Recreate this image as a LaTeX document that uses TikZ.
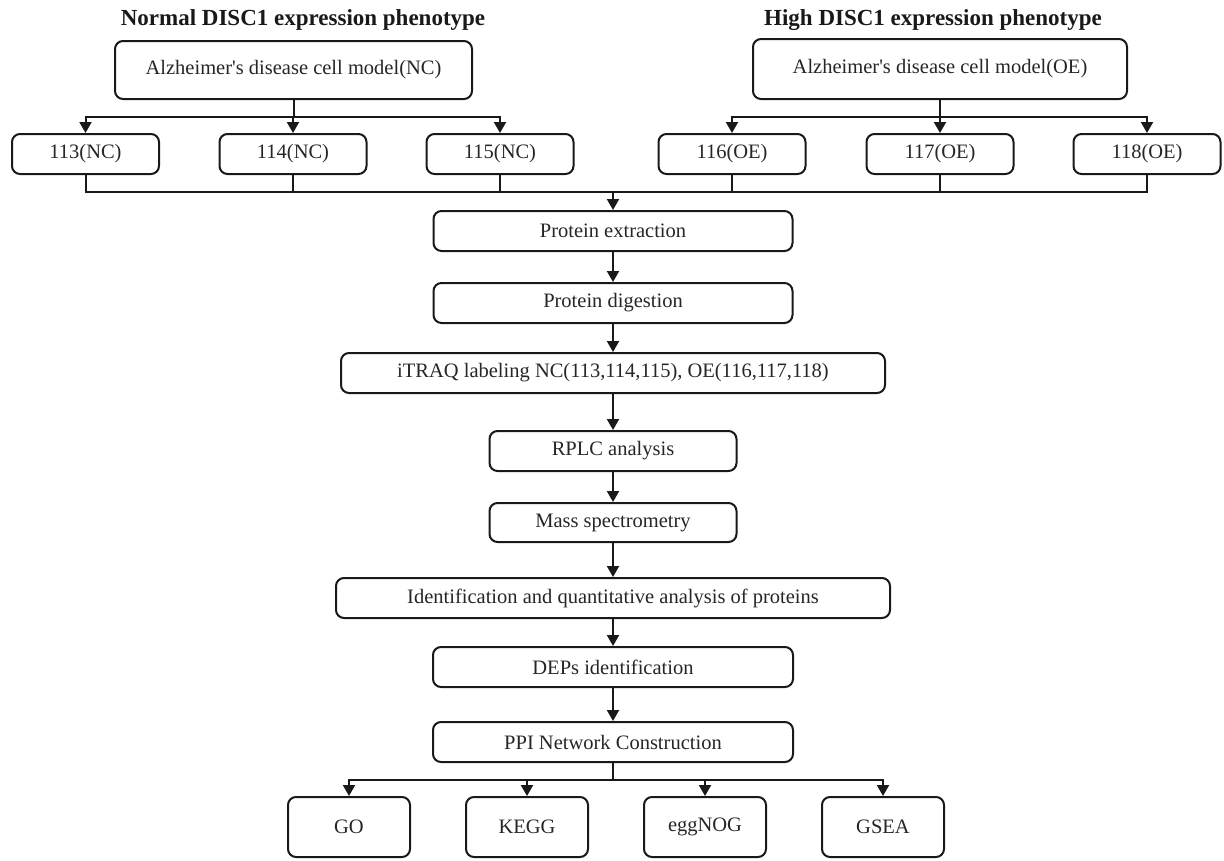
\documentclass[tikz,border=0pt]{standalone}
\usepackage{fontspec}
\setmainfont{Liberation Serif}
\usetikzlibrary{arrows.meta}
\begin{document}
\begin{tikzpicture}[x=1pt,y=-1pt,
  box/.style={draw=black!90, line width=2pt, rounded corners=8pt, inner sep=0pt,
    text=black!85, font=\fontsize{20.5}{24}\selectfont},
  ttl/.style={text=black!90, font=\fontsize{23}{27}\selectfont\bfseries, inner sep=0pt},
  ln/.style={draw=black!90, line width=2pt},
  arr/.style={ln, -{Triangle[length=11pt,width=12pt]}}]
\useasboundingbox (0,0) rectangle (1224,860);
\node[ttl] (t1) at (303,20) {Normal DISC1 expression phenotype};
\node[ttl] (t2) at (933,20) {High DISC1 expression phenotype};
\node[box, minimum width=357pt, minimum height=58pt] (nc) at (293.5,70) {Alzheimer\textquotesingle s disease cell model(NC)};
\node[box, minimum width=374pt, minimum height=60pt] (oe) at (940,69) {Alzheimer\textquotesingle s disease cell model(OE)};
\foreach \n/\x/\t in {c113/85.5/113(NC), c114/293/114(NC), c115/500/115(NC), c116/732/116(OE), c117/940/117(OE), c118/1147/118(OE)}
  \node[box, minimum width=147pt, minimum height=40pt] (\n) at (\x,154) {\t};
\node[box, minimum width=359pt, minimum height=40pt] (pe) at (613,231) {Protein extraction};
\node[box, minimum width=359pt, minimum height=40pt] (pd) at (613,303) {Protein digestion};
\node[box, minimum width=544pt, minimum height=40pt] (it) at (613,373) {iTRAQ labeling NC(113,114,115), OE(116,117,118)};
\node[box, minimum width=247pt, minimum height=40pt] (rp) at (613,451) {RPLC analysis};
\node[box, minimum width=247pt, minimum height=39pt] (ms) at (613,522.5) {Mass spectrometry};
\node[box, minimum width=554pt, minimum height=40pt] (id) at (613,598) {Identification and quantitative analysis of proteins};
\node[box, minimum width=360pt, minimum height=40pt] (dep) at (613,667) {DEPs identification};
\node[box, minimum width=360pt, minimum height=40pt] (ppi) at (613,742) {PPI Network Construction};
\foreach \n/\x/\t in {go/349/GO, kegg/527/KEGG, egg/705/eggNOG, gsea/883/GSEA}
  \node[box, minimum width=122pt, minimum height=60pt] (\n) at (\x,827) {\t};
% top buses
\coordinate (bn) at (nc.south |- 0,117);
\coordinate (bo) at (oe.south |- 0,117);
\draw[ln] (nc.south) -- (bn);
\draw[ln] (oe.south) -- (bo);
\foreach \n in {c113,c114,c115} \draw[arr] (bn) -| (\n.north);
\foreach \n in {c116,c117,c118} \draw[arr] (bo) -| (\n.north);
% lower bus
\coordinate (j) at (pe.north |- 0,192);
\foreach \n in {c113,c114,c115,c116,c117,c118} \draw[ln] (\n.south) |- (j);
\draw[arr] (j) -- (pe.north);
\draw[arr] (pe) -- (pd);
\draw[arr] (pd) -- (it);
\draw[arr] (it) -- (rp);
\draw[arr] (rp) -- (ms);
\draw[arr] (ms) -- (id);
\draw[arr] (id) -- (dep);
\draw[arr] (dep) -- (ppi);
\coordinate (k) at (ppi.south |- 0,780);
\draw[ln] (ppi.south) -- (k);
\foreach \n in {go,kegg,egg,gsea} \draw[arr] (k) -| (\n.north);
\end{tikzpicture}
\end{document}
